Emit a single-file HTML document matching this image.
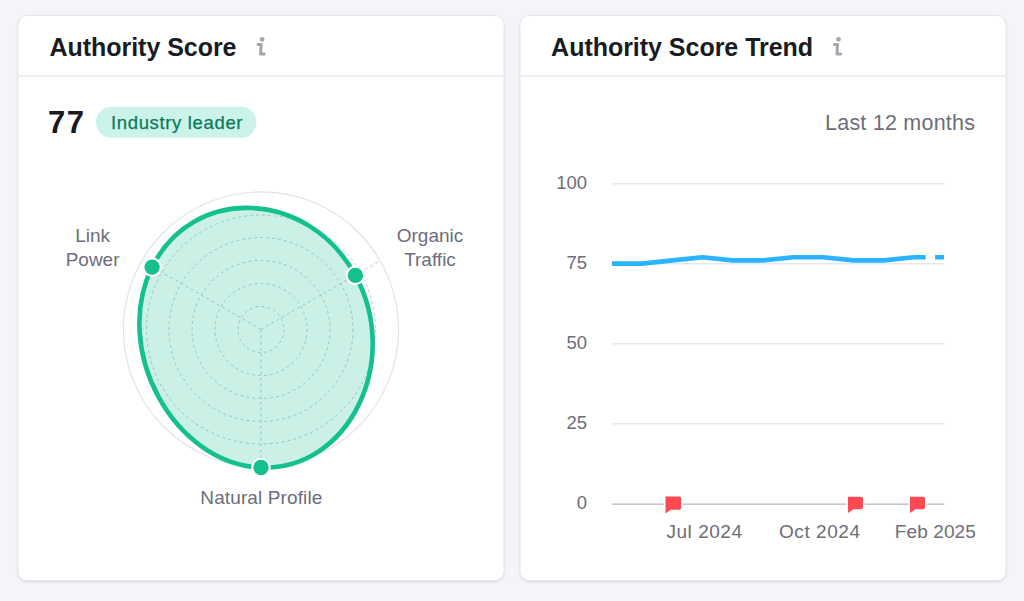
<!DOCTYPE html>
<html>
<head>
<meta charset="utf-8">
<style>
html,body{margin:0;padding:0;width:1024px;height:601px;overflow:hidden;background:#f4f5f9;}
svg{display:block;position:absolute;left:0;top:0;}
text{font-family:"Liberation Sans",sans-serif;}
</style>
</head>
<body>
<svg width="1024" height="601" viewBox="0 0 1024 601">
  <defs>
    <filter id="sh" x="-5%" y="-5%" width="110%" height="110%">
      <feDropShadow dx="0" dy="1" stdDeviation="0.8" flood-color="#191b23" flood-opacity="0.12"/>
    </filter>
  </defs>
  <!-- cards -->
  <rect x="18" y="15.5" width="486" height="565" rx="9" fill="#fff" stroke="#e6e7ed" stroke-width="1" filter="url(#sh)"/>
  <rect x="520" y="15.5" width="486" height="565" rx="9" fill="#fff" stroke="#e6e7ed" stroke-width="1" filter="url(#sh)"/>
  <!-- header separators -->
  <rect x="18.5" y="75.5" width="485" height="1.2" fill="#e0e1e9"/>
  <rect x="520.5" y="75.5" width="485" height="1.2" fill="#e0e1e9"/>

  <!-- LEFT CARD -->
  <text x="49.5" y="55.6" font-size="25" font-weight="700" fill="#191b23" textLength="187" lengthAdjust="spacing">Authority Score</text>
  <!-- info icon -->
  <g fill="none" stroke="#a4a6ae" stroke-width="3" stroke-linecap="round" stroke-linejoin="round">
    <circle cx="262.1" cy="39.3" r="1.1" stroke-width="2.6"/>
    <path d="M258.1,44.5H261.2L260.6,54H264.3"/>
  </g>

  <text x="48" y="133.4" font-size="31" font-weight="700" fill="#191b23" textLength="36" lengthAdjust="spacing">77</text>
  <rect x="96" y="106.7" width="160.5" height="31" rx="15.5" fill="#cbf3e9"/>
  <text x="111" y="129" font-size="18.5" fill="#0a7a5b" stroke="#0a7a5b" stroke-width="0.25" textLength="131.5" lengthAdjust="spacing">Industry leader</text>

  <!-- radar -->
  <circle cx="261" cy="329.5" r="137.6" fill="none" stroke="#e2e3e9" stroke-width="1.2"/>
  <g fill="none" stroke="#c4c7cf" stroke-width="1" stroke-dasharray="3 3">
    <circle cx="261" cy="329.5" r="23"/>
    <circle cx="261" cy="329.5" r="46"/>
    <circle cx="261" cy="329.5" r="69"/>
    <circle cx="261" cy="329.5" r="92"/>
    <circle cx="261" cy="329.5" r="114.5"/>
    <path d="M261,329.5V467.5M261,329.5L141.8,260.7M261,329.5L380.2,260.7"/>
  </g>
  <path d="M152.1,267.1C192.7,184.5 308.6,189.2 355.4,275.4C402.2,361.6 348.4,471.1 261.0,467.5C173.6,463.9 111.5,349.7 152.1,267.1Z" fill="#14c08e" fill-opacity="0.22" stroke="#14c08e" stroke-width="4.6"/>
  <g fill="#14c08e" stroke="#fff" stroke-width="4.2" paint-order="stroke">
    <circle cx="152.1" cy="267.1" r="7.7"/>
    <circle cx="355.4" cy="275.4" r="7.7"/>
    <circle cx="261" cy="467.5" r="7.7"/>
  </g>
  <g font-size="19" fill="#6c6e79" text-anchor="middle">
    <text x="92.6" y="242">Link</text>
    <text x="92.6" y="265.8">Power</text>
    <text x="430" y="242">Organic</text>
    <text x="430" y="265.8">Traffic</text>
    <text x="261.3" y="503.6" textLength="122" lengthAdjust="spacing">Natural Profile</text>
  </g>

  <!-- RIGHT CARD -->
  <text x="551.1" y="55.7" font-size="25" font-weight="700" fill="#191b23" textLength="262" lengthAdjust="spacing">Authority Score Trend</text>
  <g fill="none" stroke="#a4a6ae" stroke-width="3" stroke-linecap="round" stroke-linejoin="round">
    <circle cx="838.5" cy="39.3" r="1.1" stroke-width="2.6"/>
    <path d="M834.5,44.5H837.6L837,54H840.7"/>
  </g>
  <text x="825" y="130.2" font-size="21.5" fill="#6c6e79" textLength="150" lengthAdjust="spacing">Last 12 months</text>

  <!-- grid -->
  <g fill="#e6e7ed">
    <rect x="612" y="183" width="332.5" height="1.5"/>
    <rect x="612" y="263" width="332.5" height="1.5"/>
    <rect x="612" y="343" width="332.5" height="1.5"/>
    <rect x="612" y="423" width="332.5" height="1.5"/>
  </g>
  <rect x="612" y="503.4" width="332.5" height="1.6" fill="#c4c7cf"/>
  <g font-size="18.5" fill="#6c6e79" text-anchor="end">
    <text x="587" y="188.6">100</text>
    <text x="587" y="268.6">75</text>
    <text x="587" y="348.6">50</text>
    <text x="587" y="428.6">25</text>
    <text x="587" y="508.6">0</text>
  </g>
  <!-- line -->
  <polyline points="612,263.6 642.2,263.6 672.4,260.4 702.6,257.2 732.8,260.4 763,260.4 793.2,257.2 823.4,257.2 853.6,260.4 883.8,260.4 914,257.2" fill="none" stroke="#2bb3ff" stroke-width="4.6" stroke-linejoin="round"/>
  <path d="M914,257.2H944" stroke="#2bb3ff" stroke-width="4.6" stroke-dasharray="11.7 9.4"/>

  <!-- flags -->
  <g fill="#ff4953" stroke="#fff" stroke-width="3" paint-order="stroke" stroke-linejoin="round">
    <path d="M665.5,496.5H679.2Q681.2,496.5 681.2,498.5V507.8Q681.2,509.8 679.2,509.8H671L665.5,513.5Z"/>
    <path d="M848,496.7H861.1Q863.1,496.7 863.1,498.7V507.2Q863.1,509.2 861.1,509.2H853.5L848,513.1Z"/>
    <path d="M910,496.7H923Q925,496.7 925,498.7V507.2Q925,509.2 923,509.2H915.5L910,513.1Z"/>
  </g>
  <g font-size="19" fill="#6c6e79">
    <text x="666.5" y="537.5" textLength="75.5" lengthAdjust="spacing">Jul 2024</text>
    <text x="779" y="537.5" textLength="81" lengthAdjust="spacing">Oct 2024</text>
    <text x="894.8" y="537.5" textLength="81" lengthAdjust="spacing">Feb 2025</text>
  </g>
</svg>
</body>
</html>
